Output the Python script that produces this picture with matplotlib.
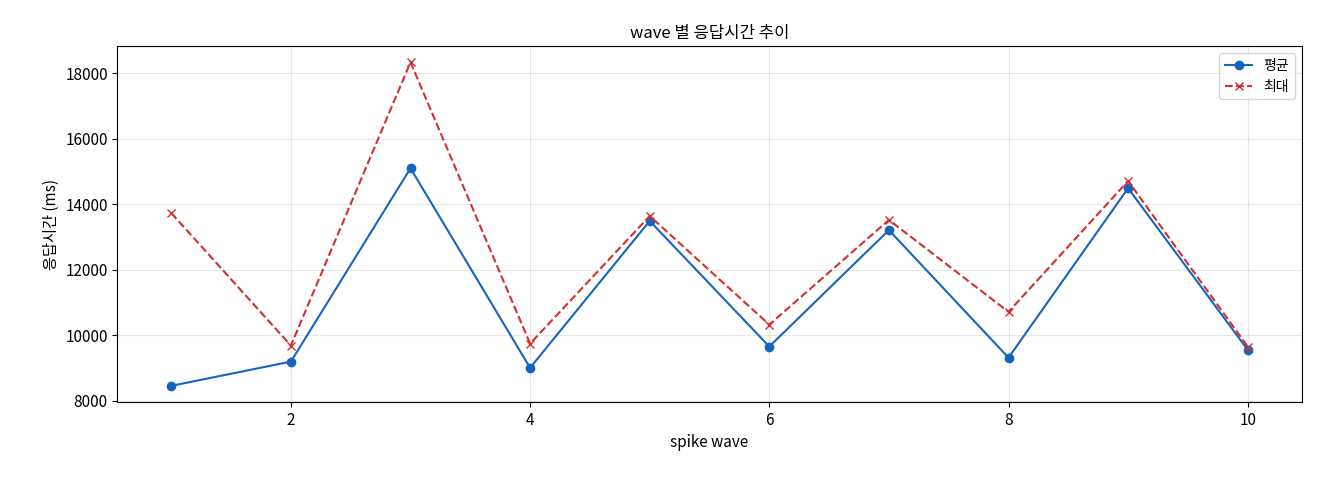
import matplotlib
matplotlib.use("Agg")
import matplotlib.pyplot as plt

plt.rcParams['font.family'] = ['Noto Sans CJK KR', 'DejaVu Sans']
plt.rcParams['xtick.labelsize'] = 11
plt.rcParams['ytick.labelsize'] = 11

waves = [1, 2, 3, 4, 5, 6, 7, 8, 9, 10]
avg_ms = [8450, 9190, 15100, 9000, 13490, 9650, 13210, 9310, 14490, 9550]
max_ms = [13730, 9680, 18340, 9740, 13640, 10320, 13520, 10710, 14710, 9650]

fig, ax = plt.subplots(figsize=(13.2, 4.8), dpi=100)
ax.plot(waves, avg_ms, marker='o', color='#1565c0', label='평균')
ax.plot(waves, max_ms, marker='x', linestyle='--', color='#d32f2f', label='최대')
ax.set_title('wave 별 응답시간 추이', fontsize=12)
ax.set_xlabel('spike wave', fontsize=11)
ax.set_ylabel('응답시간 (ms)', fontsize=11)
ax.grid(True, alpha=0.3)
ax.legend(loc='upper right')
fig.subplots_adjust(left=0.089, right=0.986, top=0.904, bottom=0.1625)
fig.savefig('out.png')
